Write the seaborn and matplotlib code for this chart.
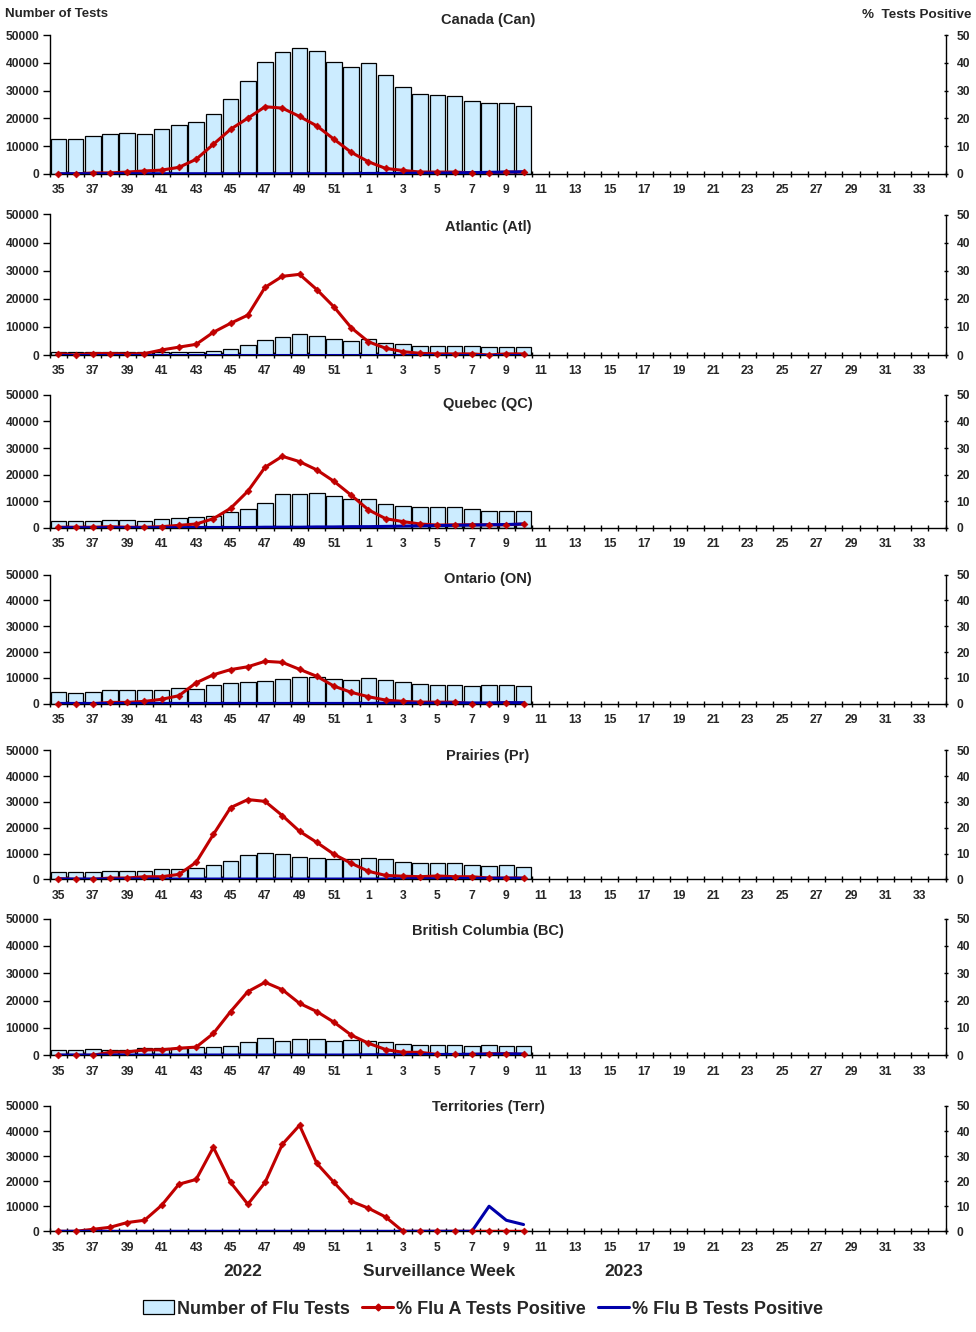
import numpy as np
import pandas as pd
import matplotlib
matplotlib.use("Agg")
import matplotlib.pyplot as plt
from matplotlib.patches import Patch
from matplotlib.lines import Line2D
import seaborn as sns

sns.set_style("white")
plt.rcParams["font.family"] = ["Liberation Sans", "DejaVu Sans"]
plt.rcParams["font.weight"] = "bold"

# ---------------- data ----------------
weeks_all = ["35", "36", "37", "38", "39", "40", "41", "42", "43", "44", "45", "46",
             "47", "48", "49", "50", "51", "52", "1", "2", "3", "4", "5", "6", "7",
             "8", "9", "10", "11", "12", "13", "14", "15", "16", "17", "18", "19",
             "20", "21", "22", "23", "24", "25", "26", "27", "28", "29", "30", "31",
             "32", "33", "34"]
weeks_data = ["35", "36", "37", "38", "39", "40", "41", "42", "43", "44", "45", "46",
              "47", "48", "49", "50", "51", "52", "1", "2", "3", "4", "5", "6", "7",
              "8", "9", "10"]

can_tests = [12500, 12500, 13500, 14300, 14600, 14300, 16100, 17500, 18600, 21500, 26900, 33300,
             40200, 43800, 45200, 44100, 40200, 38400, 39800, 35500, 31200, 28700, 28300, 27900,
             26100, 25400, 25400, 24300]
can_a = [0.0, 0.0, 0.4, 0.4, 0.7, 1.1, 1.4, 2.4, 5.3, 10.7, 16.1, 20.1, 24.2, 23.7, 20.7, 17.3,
         12.5, 7.8, 4.4, 2.0, 1.3, 0.7, 0.7, 0.7, 0.4, 0.4, 0.7, 0.7]
can_b = [0.1, 0.1, 0.1, 0.1, 0.1, 0.1, 0.1, 0.1, 0.1, 0.1, 0.1, 0.1, 0.1, 0.1, 0.1, 0.1,
         0.1, 0.1, 0.2, 0.2, 0.2, 0.3, 0.3, 0.4, 0.5, 0.6, 0.7, 0.8]

atl_tests = [900, 900, 900, 900, 900, 900, 900, 1000, 1000, 1400, 2100, 3400, 5200, 6300, 7500,
             6800, 5700, 4900, 5700, 4300, 3900, 3200, 3200, 3200, 3200, 2800, 2800, 2800]
atl_a = [0.5, 0.0, 0.5, 0.5, 0.3, 0.5, 1.8, 2.8, 3.8, 8.1, 11.3, 14.2, 24.1, 28.0, 28.7, 23.3,
         17.1, 9.7, 4.7, 2.4, 1.2, 0.6, 0.4, 0.4, 0.4, 0.0, 0.4, 0.4]
atl_b = [0.1, 0.1, 0.1, 0.1, 0.1, 0.1, 0.1, 0.1, 0.1, 0.1, 0.1, 0.1, 0.1, 0.1, 0.1, 0.1,
         0.1, 0.1, 0.1, 0.1, 0.1, 0.1, 0.1, 0.1, 0.1, 0.1, 0.1, 0.1]

qc_tests = [2500, 2500, 2500, 2900, 2900, 2500, 3200, 3700, 4100, 4500, 5900, 7000, 9200, 12600,
            12600, 13000, 11900, 10700, 10700, 8900, 8100, 7700, 7700, 7700, 7000, 6200, 6200, 6200]
qc_a = [0.3, 0.3, 0.3, 0.5, 0.3, 0.3, 0.5, 1.0, 1.5, 3.5, 7.4, 13.8, 22.8, 26.9, 24.9, 21.8,
        17.5, 12.3, 6.8, 3.5, 2.4, 1.5, 1.1, 1.2, 1.2, 1.2, 1.2, 1.5]
qc_b = [0.1, 0.1, 0.1, 0.1, 0.1, 0.1, 0.1, 0.1, 0.2, 0.2, 0.2, 0.2, 0.3, 0.3, 0.3, 0.4,
        0.4, 0.5, 0.5, 0.6, 0.7, 0.8, 0.9, 1.0, 1.1, 1.2, 1.3, 1.5]

on_tests = [4700, 4300, 4700, 5400, 5400, 5400, 5400, 6200, 5800, 7100, 8100, 8500, 8900, 9700,
            10500, 10500, 9700, 9300, 10100, 9300, 8500, 7800, 7400, 7400, 7000, 7400, 7400, 7000]
on_a = [0.0, 0.0, 0.0, 0.5, 0.5, 0.9, 1.7, 3.1, 8.1, 11.2, 13.2, 14.3, 16.4, 16.0, 13.3, 10.6,
        6.8, 4.4, 2.7, 1.4, 0.9, 0.6, 0.6, 0.6, 0.0, 0.0, 0.4, 0.0]
on_b = [0.1, 0.1, 0.1, 0.1, 0.1, 0.1, 0.1, 0.1, 0.1, 0.1, 0.1, 0.1, 0.1, 0.1, 0.1, 0.1,
        0.1, 0.1, 0.1, 0.2, 0.2, 0.2, 0.2, 0.3, 0.3, 0.3, 0.4, 0.4]

pr_tests = [2700, 2700, 2700, 3100, 3100, 3100, 3900, 3900, 4300, 5400, 7000, 9300, 10100, 9700,
            8500, 8100, 7700, 7700, 8100, 7700, 6600, 6200, 6200, 6200, 5400, 5000, 5400, 4600]
pr_a = [0.3, 0.0, 0.0, 0.5, 0.5, 1.0, 1.0, 1.9, 6.6, 17.4, 27.8, 30.9, 30.2, 24.7, 18.6, 14.3,
        9.7, 6.2, 3.1, 1.5, 1.2, 1.0, 1.3, 1.0, 1.0, 0.5, 0.5, 0.5]
pr_b = [0.1, 0.1, 0.1, 0.1, 0.1, 0.1, 0.1, 0.1, 0.1, 0.1, 0.1, 0.1, 0.1, 0.1, 0.1, 0.1,
        0.1, 0.1, 0.1, 0.1, 0.2, 0.2, 0.2, 0.3, 0.3, 0.4, 0.4, 0.4]

bc_tests = [1800, 1800, 2200, 2100, 2100, 2600, 2600, 2800, 2900, 2900, 3300, 4800, 6200, 5100,
            5900, 5900, 5100, 5500, 5100, 4800, 4000, 3700, 3700, 3700, 3300, 3700, 3300, 3300]
bc_a = [0.0, 0.0, 0.0, 1.1, 1.2, 2.0, 2.0, 2.6, 3.0, 8.0, 16.0, 23.3, 26.7, 24.0, 19.0, 16.0,
        12.1, 7.4, 4.4, 2.1, 1.1, 1.1, 0.3, 0.3, 0.3, 0.6, 0.6, 0.3]
bc_b = [0.1, 0.1, 0.1, 0.1, 0.1, 0.1, 0.1, 0.1, 0.1, 0.1, 0.1, 0.1, 0.1, 0.1, 0.1, 0.1,
        0.1, 0.1, 0.2, 0.2, 0.2, 0.3, 0.3, 0.3, 0.4, 0.4, 0.5, 0.5]

terr_tests = [90, 80, 100, 110, 120, 110, 130, 150, 160, 170, 180, 190, 200, 210, 220, 200,
              180, 170, 190, 170, 160, 150, 140, 140, 130, 120, 120, 110]
terr_a = [0.0, 0.0, 0.8, 1.6, 3.5, 4.4, 10.4, 18.8, 20.7, 33.5, 19.5, 10.8, 19.5, 34.7, 42.3, 27.1,
          19.5, 12.0, 9.2, 5.7, 0.0, 0.0, 0.0, 0.0, 0.0, 0.0, 0.0, 0.0]
terr_b = [0.0, 0.0, 0.0, 0.0, 0.0, 0.0, 0.0, 0.0, 0.0, 0.0, 0.0, 0.0, 0.0, 0.0, 0.0, 0.0,
          0.0, 0.0, 0.0, 0.0, 0.0, 0.0, 0.0, 0.0, 0.0, 10.0, 4.4, 2.7]

titles = ["Canada (Can)", "Atlantic (Atl)", "Quebec (QC)", "Ontario (ON)",
          "Prairies (Pr)", "British Columbia (BC)", "Territories (Terr)"]
tests_list = [can_tests, atl_tests, qc_tests, on_tests, pr_tests, bc_tests, terr_tests]
a_list = [can_a, atl_a, qc_a, on_a, pr_a, bc_a, terr_a]
b_list = [can_b, atl_b, qc_b, on_b, pr_b, bc_b, terr_b]

# ---------------- layout (pixels) ----------------
W_PX, H_PX = 976, 1332
tops = [35, 214.5, 394.7, 574.5, 750.3, 918.6, 1106]
zeros = [174, 355, 528, 703.7, 879.3, 1055.3, 1231.3]
title_y = [20, 227, 404, 579, 756, 931, 1107]
left_px, right_px = 49.7, 945.7

BAR = "#CCECFF"
RED = "#C00000"
BLUE = "#0000AA"

fig = plt.figure(figsize=(W_PX / 100, H_PX / 100), dpi=100)

pos = [weeks_all.index(w) for w in weeks_data]

for i in range(7):
    L = left_px / W_PX
    Wd = (right_px - left_px) / W_PX
    B = 1 - zeros[i] / H_PX
    Hd = (zeros[i] - tops[i]) / H_PX
    ax = fig.add_axes([L, B, Wd, Hd])
    df = pd.DataFrame({"week": weeks_data, "tests": tests_list[i]})
    sns.barplot(data=df, x="week", y="tests", order=weeks_all, color=BAR,
                edgecolor="black", linewidth=0.9, width=0.9, saturation=1, ax=ax)
    ax.set_ylim(0, 50000)
    ax.set_xlim(-0.5, 51.5)
    ax.set_xlabel("")
    ax.set_ylabel("")

    ax2 = ax.twinx()
    dl = pd.DataFrame({"pos": pos, "a": a_list[i], "b": b_list[i]})
    sns.lineplot(data=dl, x="pos", y="a", color=RED, linewidth=2.2, ax=ax2, zorder=2)
    sns.lineplot(data=dl, x="pos", y="b", color=BLUE, linewidth=2.2, ax=ax2, zorder=3)
    sns.scatterplot(data=dl, x="pos", y="a", color=RED, marker="D", s=12,
                    edgecolor=RED, linewidth=0.5, ax=ax2, zorder=4, clip_on=False)
    ax2.set_ylim(0, 50)
    ax2.set_xlim(-0.5, 51.5)
    ax2.set_ylabel("")
    ax2.set_xlabel("")

    # spines
    for s in ["top", "right"]:
        ax.spines[s].set_visible(False)
    for s in ["top", "left", "bottom"]:
        ax2.spines[s].set_visible(False)
    for s in ["left", "bottom"]:
        ax.spines[s].set_linewidth(1.0)
        ax.spines[s].set_color("black")
    ax2.spines["right"].set_linewidth(1.0)
    ax2.spines["right"].set_color("black")

    # x ticks
    ax.set_xticks(range(0, 52, 2))
    ax.set_xticklabels(weeks_all[::2])
    ax.set_xticks(np.arange(-0.5, 52, 1), minor=True)
    ax.tick_params(axis="x", which="major", length=0, pad=7.5, labelsize=8.7)
    ax.tick_params(axis="x", which="minor", length=4.3, width=1, direction="inout",
                   color="black", bottom=True)
    for t in ax.get_xticklabels():
        t.set_fontweight("bold")

    # left y
    ax.set_yticks([0, 10000, 20000, 30000, 40000, 50000])
    ax.set_yticklabels(["0", "10000", "20000", "30000", "40000", "50000"])
    ax.tick_params(axis="y", which="major", length=5, width=1, direction="out",
                   pad=2.5, labelsize=8.7, left=True, color="black")
    for t in ax.get_yticklabels():
        t.set_fontweight("bold")

    # right y
    ax2.set_yticks([0, 10, 20, 30, 40, 50])
    ax2.set_yticklabels(["0", "10", "20", "30", "40", "50"])
    ax2.tick_params(axis="y", which="major", length=3.4, width=1, direction="inout",
                    pad=6, labelsize=8.7, right=True, color="black")
    for t in ax2.get_yticklabels():
        t.set_fontweight("bold")

    fig.text(488 / W_PX, 1 - title_y[i] / H_PX, titles[i], ha="center", va="center",
             fontsize=10.5, fontweight="bold")

fig.text(5 / W_PX, 1 - 14 / H_PX, "Number of Tests", ha="left", va="center",
         fontsize=9.5, fontweight="bold")
fig.text(972 / W_PX, 1 - 15 / H_PX, "%  Tests Positive", ha="right", va="center",
         fontsize=9.7, fontweight="bold")

fig.text(243 / W_PX, 1 - 1272 / H_PX, "2022", ha="center", va="center",
         fontsize=12.5, fontweight="bold")
fig.text(439 / W_PX, 1 - 1272 / H_PX, "Surveillance Week", ha="center", va="center",
         fontsize=12.5, fontweight="bold")
fig.text(624 / W_PX, 1 - 1272 / H_PX, "2023", ha="center", va="center",
         fontsize=12.5, fontweight="bold")

handles = [
    Patch(facecolor=BAR, edgecolor="black", linewidth=0.9),
    Line2D([0], [0], color=RED, linewidth=2.2, marker="D", markersize=3.5),
    Line2D([0], [0], color=BLUE, linewidth=2.2),
]
labels = ["Number of Flu Tests", "% Flu A Tests Positive", "% Flu B Tests Positive"]
fig.legend(handles, labels, loc="center", bbox_to_anchor=(483 / W_PX, 1 - 1309 / H_PX),
           ncol=3, frameon=False, prop={"size": 13, "weight": "bold"},
           handlelength=1.7, handletextpad=0.15, columnspacing=0.7, handleheight=0.8)

fig.savefig("out.png", dpi=100)
